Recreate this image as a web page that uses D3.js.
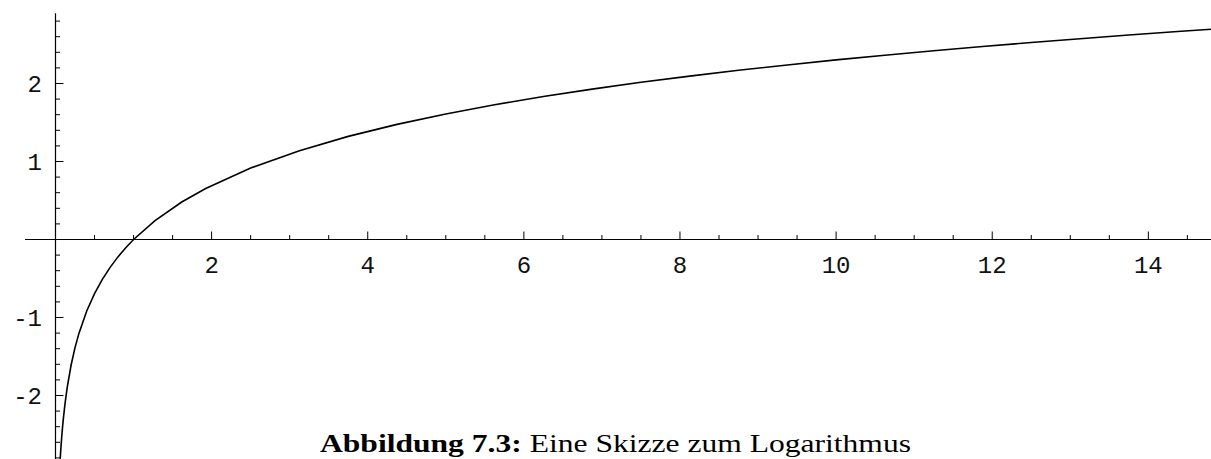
<!DOCTYPE html>
<html>
<head>
<meta charset="utf-8">
<script src="https://cdn.jsdelivr.net/npm/d3@7"></script>
<style>
  body { margin: 0; background: #fff; }
  svg { display: block; }
</style>
</head>
<body>
<svg id="CHART" width="1211" height="459"></svg>
<script>
var xVals = [0.06, 0.07, 0.08, 0.09, 0.1, 0.12, 0.15, 0.2, 0.25, 0.3, 0.4, 0.5, 0.6, 0.7, 0.8, 0.9, 1.0,
  1.275, 1.617, 1.924, 2.5, 3.125, 3.75, 4.375, 5.0, 5.625, 6.25, 6.875, 7.5, 8.125, 8.75, 9.375,
  10.0, 10.625, 11.25, 11.875, 12.5, 13.125, 13.75, 14.375, 15.0];
var yVals = [-2.813, -2.659, -2.526, -2.408, -2.303, -2.120, -1.897, -1.609, -1.386, -1.204, -0.916, -0.693, -0.511, -0.357, -0.223, -0.105, 0,
  0.243, 0.481, 0.654, 0.916, 1.139, 1.322, 1.476, 1.609, 1.727, 1.833, 1.928, 2.015, 2.095, 2.169, 2.238,
  2.303, 2.363, 2.420, 2.474, 2.526, 2.574, 2.621, 2.666, 2.708];

var xTicks = [2, 4, 6, 8, 10, 12, 14];
var yTicks = [-2, -1, 1, 2];
var captionBold = "Abbildung 7.3:";
var captionText = " Eine Skizze zum Logarithmus";

const width = 1211, height = 459;

let svg = d3.select("#CHART");

// origin is at (55.5, 239.5); one unit is about 78 px both ways
let xScale = d3.scaleLinear().domain([-0.39, 14.8]).range([55.5 - 0.39 * 78.06, 55.5 + 14.8 * 78.06]);
let yScale = d3.scaleLinear().domain([-2.83, 2.9]).range([239.5 + 2.83 * 78, 239.5 - 2.9 * 78]);

// clip for curve
svg.append("clipPath").attr("id", "clip")
  .append("rect").attr("x", 0).attr("y", yScale(2.9)).attr("width", width).attr("height", height);

// minor ticks every 0.5 (x) / 0.2 (y)
let xMinor = d3.range(0.5, 14.81, 0.5).filter(v => Math.abs(v % 2) > 1e-6);
let yMinor = d3.range(-2.8, 2.81, 0.2).map(v => Math.round(v * 10) / 10).filter(v => Math.abs(v - Math.round(v)) > 1e-6);

const labelFont = "'Liberation Mono', 'DejaVu Sans Mono', monospace";

// x axis
let xAxis = svg.append("g").attr("class", "xAxis");
xAxis.append("line")
  .attr("x1", xScale(-0.39)).attr("x2", width)
  .attr("y1", yScale(0)).attr("y2", yScale(0))
  .attr("stroke", "#000").attr("stroke-width", 1.2);
xAxis.selectAll(".minor").data(xMinor).enter().append("line")
  .attr("x1", d => xScale(d)).attr("x2", d => xScale(d))
  .attr("y1", yScale(0)).attr("y2", yScale(0) - 4.5)
  .attr("stroke", "#000").attr("stroke-width", 1);
xAxis.selectAll(".major").data(xTicks).enter().append("line")
  .attr("x1", d => xScale(d)).attr("x2", d => xScale(d))
  .attr("y1", yScale(0)).attr("y2", yScale(0) - 8)
  .attr("stroke", "#000").attr("stroke-width", 1);
xAxis.selectAll("text").data(xTicks).enter().append("text")
  .attr("x", d => xScale(d))
  .attr("y", yScale(0) + 33)
  .attr("text-anchor", "middle")
  .style("font-family", labelFont)
  .style("font-size", "24px")
  .attr("fill", "#111")
  .text(d => d);

// y axis
let yAxis = svg.append("g").attr("class", "yAxis");
yAxis.append("line")
  .attr("x1", xScale(0)).attr("x2", xScale(0))
  .attr("y1", yScale(2.9)).attr("y2", height)
  .attr("stroke", "#000").attr("stroke-width", 1.2);
yAxis.selectAll(".minor").data(yMinor).enter().append("line")
  .attr("x1", xScale(0)).attr("x2", xScale(0) + 4.5)
  .attr("y1", d => yScale(d)).attr("y2", d => yScale(d))
  .attr("stroke", "#000").attr("stroke-width", 1);
yAxis.selectAll(".major").data(yTicks).enter().append("line")
  .attr("x1", xScale(0)).attr("x2", xScale(0) + 8)
  .attr("y1", d => yScale(d)).attr("y2", d => yScale(d))
  .attr("stroke", "#000").attr("stroke-width", 1);
yAxis.selectAll("text").data(yTicks).enter().append("text")
  .attr("x", 42)
  .attr("y", d => yScale(d) + 8.5)
  .attr("text-anchor", "end")
  .style("font-family", labelFont)
  .style("font-size", "24px")
  .attr("fill", "#111")
  .text(d => d);

// curve
let line = d3.line().x((d, i) => xScale(xVals[i])).y(d => yScale(d));
svg.append("path")
  .datum(yVals)
  .attr("clip-path", "url(#clip)")
  .attr("d", line)
  .attr("fill", "none")
  .attr("stroke", "#000")
  .attr("stroke-width", 1.6);

// caption (kept just inside the bottom edge)
let cap = svg.append("text")
  .attr("x", 320).attr("y", 452)
  .attr("textLength", 591)
  .attr("lengthAdjust", "spacingAndGlyphs")
  .style("font-family", "'Liberation Serif', 'DejaVu Serif', serif")
  .style("font-size", "26px")
  .attr("fill", "#000");
cap.append("tspan").style("font-weight", "bold").text(captionBold);
cap.append("tspan").text(captionText);
</script>
</body>
</html>
